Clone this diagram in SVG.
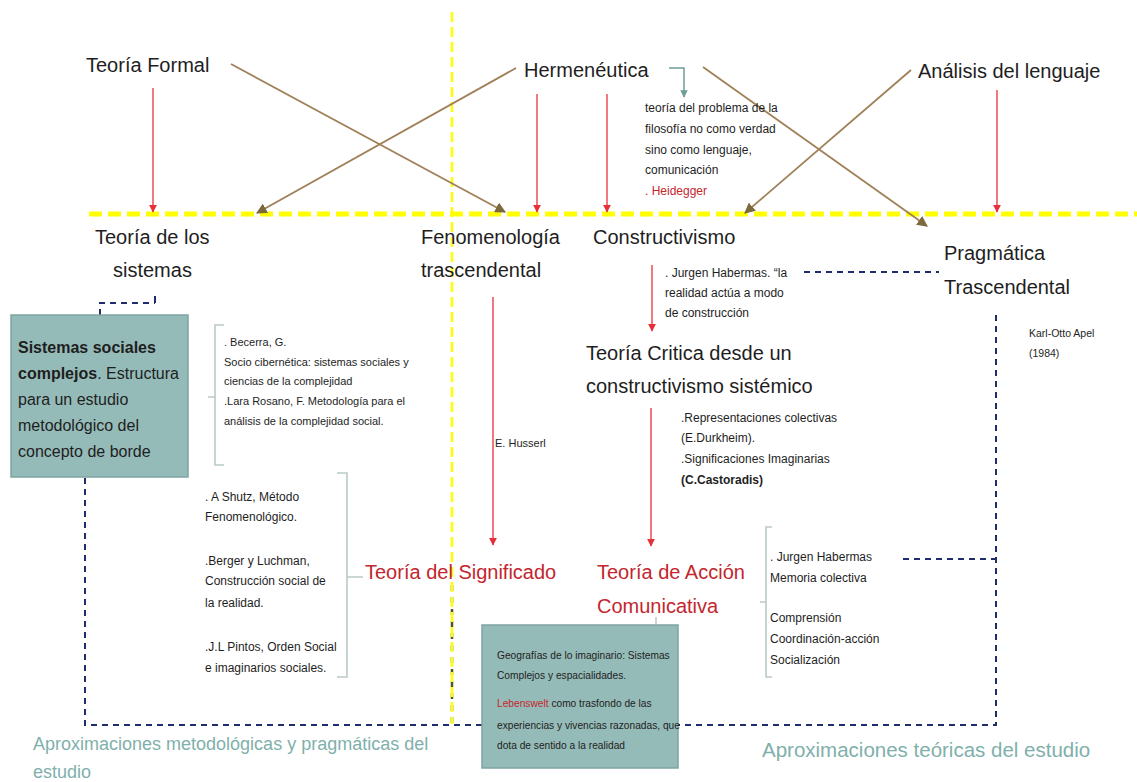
<svg xmlns="http://www.w3.org/2000/svg" width="1137" height="782" viewBox="0 0 1137 782">
<style>
text{font-family:"Liberation Sans",Arial,sans-serif;fill:#1e1e1e}
.t{font-size:20px}
.r{fill:#c3262e}
.s{font-size:12px}
.b{font-size:11px}
.box{fill:#95bbb8;stroke:#7fa5a2;stroke-width:1.5}
.red{stroke:#e8303a;stroke-width:1.3;fill:none}
.brn{stroke:#a08058;stroke-width:1.8;fill:none}
.nav{stroke:#1f2c6e;stroke-width:2;fill:none;stroke-dasharray:6 5}
.brk{stroke:#b9cac8;stroke-width:1.6;fill:none}
.lab{fill:#7fb0ab}
</style>
<defs>
<marker id="ar" viewBox="0 0 10 10" refX="9" refY="5" markerWidth="6" markerHeight="6" orient="auto"><path d="M0,0L10,5L0,10z" fill="#e8303a"/></marker>
<marker id="ab" viewBox="0 0 10 10" refX="9" refY="5" markerWidth="6" markerHeight="6" orient="auto"><path d="M0,0L10,5L0,10z" fill="#7d6a3c"/></marker>
<marker id="ag" viewBox="0 0 10 10" refX="9" refY="5" markerWidth="5" markerHeight="5" orient="auto"><path d="M0,0L10,5L0,10z" fill="#6d9c98"/></marker>
</defs>

<g id="connectors">
<!-- yellow dividers -->
<line x1="89" y1="214" x2="1137" y2="214" stroke="#ffff00" stroke-width="5" stroke-dasharray="13 6"/>
<line x1="452" y1="585" x2="452" y2="724" stroke="#55581e" stroke-width="2.5" stroke-dasharray="6 6"/>
<line x1="452" y1="12" x2="452" y2="724" stroke="#ffff00" stroke-width="2.5" stroke-dasharray="10 5"/>
<!-- red arrows -->
<line class="red" x1="153" y1="88" x2="153" y2="212" marker-end="url(#ar)"/>
<line class="red" x1="537" y1="94" x2="537" y2="212" marker-end="url(#ar)"/>
<line class="red" x1="607" y1="94" x2="607" y2="212" marker-end="url(#ar)"/>
<line class="red" x1="997" y1="90" x2="997" y2="212" marker-end="url(#ar)"/>
<line class="red" x1="652" y1="265" x2="652" y2="331" marker-end="url(#ar)"/>
<line class="red" x1="493" y1="297" x2="493" y2="545" marker-end="url(#ar)"/>
<line class="red" x1="651" y1="408" x2="651" y2="546" marker-end="url(#ar)"/>
<!-- brown crossing arrows -->
<line class="brn" x1="231" y1="64" x2="505" y2="212" marker-end="url(#ab)"/>
<line class="brn" x1="516" y1="68" x2="257" y2="213" marker-end="url(#ab)"/>
<line class="brn" x1="703" y1="67" x2="927" y2="226" marker-end="url(#ab)"/>
<line class="brn" x1="911" y1="70" x2="745" y2="213" marker-end="url(#ab)"/>
<!-- hermeneutica elbow -->
<path d="M669,68H684V97" stroke="#6d9c98" stroke-width="1.5" fill="none" marker-end="url(#ag)"/>
<!-- navy dashed -->
<path class="nav" d="M100,315V303H155"/>
<line x1="155" y1="296" x2="155" y2="303" stroke="#1f2c6e" stroke-width="2"/>
<path class="nav" d="M85,478V725H996V313"/>
<line class="nav" x1="804" y1="272" x2="939" y2="272"/>
<line class="nav" x1="903" y1="559" x2="996" y2="559"/>
<!-- brackets -->
<path class="brk" d="M224,325H215V465H224M215,397H208"/>
<path class="brk" d="M337,473H347V677H337M347,577H363"/>
<path class="brk" d="M772,527H766V677H772M766,602H760"/>
<line x1="656" y1="617" x2="656" y2="625" stroke="#b9cac8" stroke-width="1.5"/>
</g>

<g id="teoria-formal"><text class="t" x="86" y="72">Teoría Formal</text></g>
<g id="hermeneutica"><text class="t" x="524" y="77">Hermenéutica</text></g>
<g id="analisis"><text class="t" x="918" y="78">Análisis del lenguaje</text></g>
<g id="heidegger">
<text class="s" x="645" y="112">teoría del problema de la</text>
<text class="s" x="645" y="133">filosofía no como verdad</text>
<text class="s" x="645" y="154">sino como lenguaje,</text>
<text class="s" x="645" y="174">comunicación</text>
<text class="s r" x="645" y="195">. Heidegger</text>
</g>
<g id="teoria-sistemas"><text class="t" x="95" y="244">Teoría de los</text><text class="t" x="113" y="277">sistemas</text></g>
<g id="fenomenologia"><text class="t" x="421" y="244">Fenomenología</text><text class="t" x="421" y="277">trascendental</text></g>
<g id="constructivismo"><text class="t" x="593" y="244">Constructivismo</text></g>
<g id="pragmatica"><text class="t" x="944" y="260">Pragmática</text><text class="t" x="944" y="294">Trascendental</text></g>
<g id="habermas1">
<text class="s" x="665" y="277">. Jurgen Habermas. “la</text>
<text class="s" x="665" y="297">realidad actúa a modo</text>
<text class="s" x="665" y="317">de construcción</text>
</g>
<g id="apel"><text font-size="10.5" x="1029" y="337">Karl-Otto Apel</text><text font-size="10.5" x="1029" y="357">(1984)</text></g>
<g id="sistemas-sociales">
<rect class="box" x="11" y="315" width="177" height="162"/>
<text font-size="16" x="18" y="353" font-weight="bold">Sistemas sociales</text>
<text font-size="16" x="18" y="379"><tspan font-weight="bold">complejos</tspan>. Estructura</text>
<text font-size="16" x="18" y="405">para un estudio</text>
<text font-size="16" x="18" y="431">metodológico del</text>
<text font-size="16" x="18" y="457">concepto de borde</text>
</g>
<g id="becerra">
<text class="b" x="224" y="346">. Becerra, G.</text>
<text class="b" x="224" y="366">Socio cibernética: sistemas sociales y</text>
<text class="b" x="224" y="385">ciencias de la complejidad</text>
<text class="b" x="224" y="405">.Lara Rosano, F. Metodología para el</text>
<text class="b" x="224" y="425">análisis de la complejidad social.</text>
</g>
<g id="husserl"><text class="b" x="495" y="447">E. Husserl</text></g>
<g id="teoria-critica"><text class="t" x="586" y="360">Teoría Critica desde un</text><text class="t" x="586" y="393">constructivismo sistémico</text></g>
<g id="representaciones">
<text class="s" x="681" y="422">.Representaciones colectivas</text>
<text class="s" x="681" y="442">(E.Durkheim).</text>
<text class="s" x="681" y="463">.Significaciones Imaginarias</text>
<text class="s" x="681" y="484" font-weight="bold">(C.Castoradis)</text>
</g>
<g id="autores-significado">
<text class="s" x="205" y="501">. A Shutz, Método</text>
<text class="s" x="205" y="521">Fenomenológico.</text>
<text class="s" x="205" y="565">.Berger y Luchman,</text>
<text class="s" x="205" y="585">Construcción social de</text>
<text class="s" x="205" y="607">la realidad.</text>
<text class="s" x="205" y="651">.J.L Pintos, Orden Social</text>
<text class="s" x="205" y="672">e imaginarios sociales.</text>
</g>
<g id="teoria-significado"><text class="t r" x="365" y="579">Teoría del Significado</text></g>
<g id="teoria-accion"><text class="t r" x="597" y="579">Teoría de Acción</text><text class="t r" x="597" y="613">Comunicativa</text></g>
<g id="habermas2">
<text class="s" x="770" y="561">. Jurgen Habermas</text>
<text class="s" x="770" y="582">Memoria colectiva</text>
<text class="s" x="770" y="622">Comprensión</text>
<text class="s" x="770" y="643">Coordinación-acción</text>
<text class="s" x="770" y="664">Socialización</text>
</g>
<g id="geografias">
<rect class="box" x="482" y="625" width="196" height="143"/>
<text font-size="10.2" x="497" y="659">Geografías de lo imaginario: Sistemas</text>
<text font-size="10.2" x="497" y="679">Complejos y espacialidades.</text>
<text font-size="10.2" x="497" y="707"><tspan class="r">Lebenswelt</tspan> como trasfondo de las</text>
<text font-size="10.2" x="497" y="729">experiencias y vivencias razonadas, que</text>
<text font-size="10.2" x="497" y="749">dota de sentido a la realidad</text>
</g>
<g id="labels">
<text class="lab" font-size="18" x="33" y="750">Aproximaciones metodológicas y pragmáticas del</text>
<text class="lab" font-size="18" x="33" y="778">estudio</text>
<text class="lab" font-size="20.5" x="762" y="757">Aproximaciones teóricas del estudio</text>
</g>
</svg>
